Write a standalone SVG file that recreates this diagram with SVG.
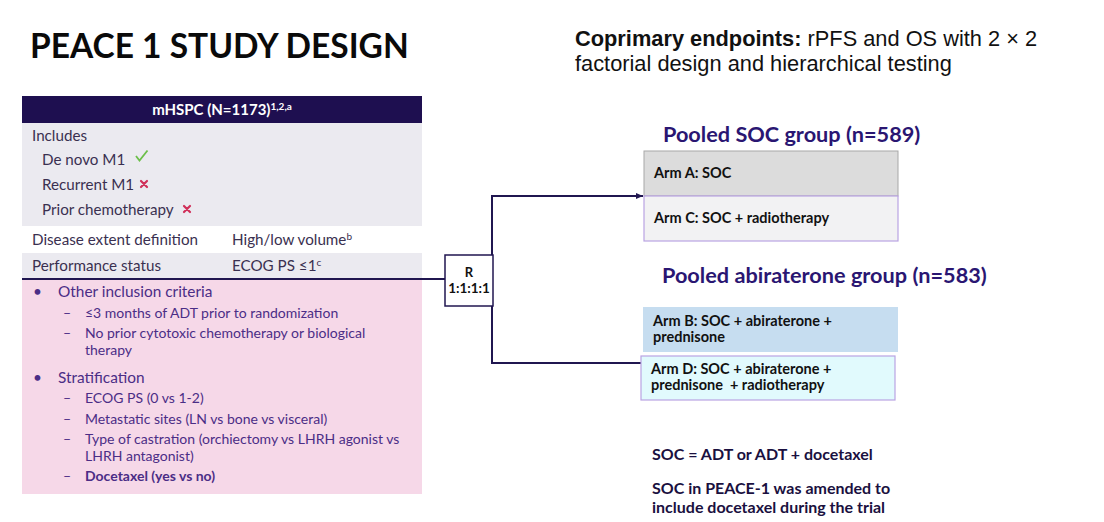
<svg xmlns="http://www.w3.org/2000/svg" width="1104" height="522" viewBox="0 0 1104 522">
<defs>
<style>
.t{font-family:Lato,"Liberation Sans",sans-serif;}
.lt{font-family:Lato,"Liberation Sans",sans-serif;font-size:15.2px;fill:#3a3050;}
.pk{font-family:Lato,"Liberation Sans",sans-serif;font-size:15.4px;fill:#4b2d86;}
.sub{font-family:Lato,"Liberation Sans",sans-serif;font-size:14px;fill:#4b2d86;}
.arm{font-family:Lato,"Liberation Sans",sans-serif;font-size:14.5px;font-weight:bold;fill:#111;}
.grp{font-family:Lato,"Liberation Sans",sans-serif;font-size:21.7px;font-weight:bold;fill:#2a1672;}
.note{font-family:Lato,"Liberation Sans",sans-serif;font-size:16px;font-weight:bold;fill:#1a1040;}
.conn{fill:none;stroke:#201650;stroke-width:2;}
.x{stroke:#d0305a;stroke-width:2.2;stroke-linecap:round;}
</style>
<marker id="ah" markerWidth="8" markerHeight="8" refX="7" refY="4" orient="auto" markerUnits="userSpaceOnUse">
<path d="M0,1 L7,4 L0,7 Z" fill="#201650"/>
</marker>
</defs>
<rect width="1104" height="522" fill="#ffffff"/>

<g id="title">
<text x="30" y="58" class="t" font-size="33.5" font-weight="bold" fill="#0a0a0a">PEACE 1 STUDY DESIGN</text>
</g>
<g id="endpoints">
<text x="575" y="46" font-family="Liberation Sans, Arial, sans-serif" font-size="21.8" fill="#111"><tspan font-weight="bold">Coprimary endpoints:</tspan> rPFS and OS with 2 × 2</text>
<text x="575" y="71" font-family="Liberation Sans, Arial, sans-serif" font-size="21.8" fill="#111">factorial design and hierarchical testing</text>
</g>

<g id="table">
<rect x="22" y="96" width="400" height="27" fill="#1e0f50"/>
<text x="222" y="115" text-anchor="middle" class="t" font-size="15" font-weight="bold" fill="#ffffff">mHSPC (N=1173)<tspan font-size="10" dy="-5">1,2,a</tspan></text>
<rect x="22" y="123" width="400" height="103" fill="#ebeaf0"/>
<text x="32" y="141" class="lt">Includes</text>
<text x="42" y="165" class="lt">De novo M1</text>
<path d="M136,156 l3.5,4.5 l8,-10" fill="none" stroke="#6cbf4a" stroke-width="1.8"/>
<text x="42" y="190" class="lt">Recurrent M1</text>
<path d="M141,181 l6,6 M147,181 l-6,6" class="x"/>
<text x="42" y="215" class="lt">Prior chemotherapy</text>
<path d="M184,206 l6,6 M190,206 l-6,6" class="x"/>
<rect x="22" y="226" width="400" height="27" fill="#ffffff"/>
<text x="32" y="245" class="lt">Disease extent definition</text>
<text x="232" y="245" class="lt">High/low volume<tspan font-size="10" dy="-5">b</tspan></text>
<rect x="22" y="253" width="400" height="26" fill="#ebeaf0"/>
<text x="32" y="271" class="lt">Performance status</text>
<text x="232" y="271" class="lt">ECOG PS ≤1<tspan font-size="10" dy="-5">c</tspan></text>
<rect x="22" y="279" width="400" height="215" fill="#f6d8e8"/>
<text x="33" y="297" class="pk">•</text>
<text x="58" y="297" class="pk">Other inclusion criteria</text>
<text x="63" y="318" class="sub">–</text>
<text x="85" y="318" class="sub">≤3 months of ADT prior to randomization</text>
<text x="63" y="338" class="sub">–</text>
<text x="85" y="338" class="sub">No prior cytotoxic chemotherapy or biological</text>
<text x="85" y="355" class="sub">therapy</text>
<text x="33" y="383" class="pk">•</text>
<text x="58" y="383" class="pk">Stratification</text>
<text x="63" y="403" class="sub">–</text>
<text x="85" y="403" class="sub">ECOG PS (0 vs 1-2)</text>
<text x="63" y="424" class="sub">–</text>
<text x="85" y="424" class="sub">Metastatic sites (LN vs bone vs visceral)</text>
<text x="63" y="444" class="sub">–</text>
<text x="85" y="444" class="sub">Type of castration (orchiectomy vs LHRH agonist vs</text>
<text x="85" y="461" class="sub">LHRH antagonist)</text>
<text x="63" y="481" class="sub">–</text>
<text x="85" y="481" class="sub" font-weight="bold" fill="#2a1672">Docetaxel (yes vs no)</text>
</g>

<g id="connectors">
<path d="M22,279 H445" class="conn"/>
<path d="M492,255 V196 H643" class="conn" marker-end="url(#ah)"/>
<path d="M492,306 V363 H641" class="conn"/>
</g>

<g id="randomize">
<rect x="445" y="255" width="48" height="51" fill="#ffffff" stroke="#201650" stroke-width="1.5"/>
<text x="469" y="277" text-anchor="middle" class="t" font-size="13" font-weight="bold" fill="#111">R</text>
<text x="469" y="293" text-anchor="middle" class="t" font-size="13.5" font-weight="bold" fill="#111">1:1:1:1</text>
</g>

<g id="soc-group">
<text x="663" y="142" class="grp">Pooled SOC group (n=589)</text>
</g>
<g id="armA">
<rect x="644" y="151" width="254" height="45" fill="#dcdcdc" stroke="#a8a8a8" stroke-width="1"/>
<text x="654" y="178" class="arm">Arm A: SOC</text>
</g>
<g id="armC">
<rect x="644" y="196" width="254" height="45" fill="#f2f2f3" stroke="#b9a3e3" stroke-width="1.2"/>
<text x="654" y="223" class="arm">Arm C: SOC + radiotherapy</text>
</g>

<g id="abi-group">
<text x="662" y="283" class="grp">Pooled abiraterone group (n=583)</text>
</g>
<g id="armB">
<rect x="643" y="307" width="255" height="45" fill="#c6ddf0"/>
<text x="653" y="326" class="arm">Arm B: SOC + abiraterone +</text>
<text x="653" y="342" class="arm">prednisone</text>
</g>
<g id="armD">
<rect x="641" y="356" width="254" height="44" fill="#e1fafd" stroke="#b9a3e3" stroke-width="1.2"/>
<text x="651" y="374" class="arm">Arm D: SOC + abiraterone +</text>
<text x="651" y="390" class="arm" xml:space="preserve">prednisone  + radiotherapy</text>
</g>

<g id="notes">
<text x="652" y="460" class="note">SOC = ADT or ADT + docetaxel</text>
<text x="652" y="494" class="note">SOC in PEACE-1 was amended to</text>
<text x="652" y="513" class="note">include docetaxel during the trial</text>
</g>
</svg>
